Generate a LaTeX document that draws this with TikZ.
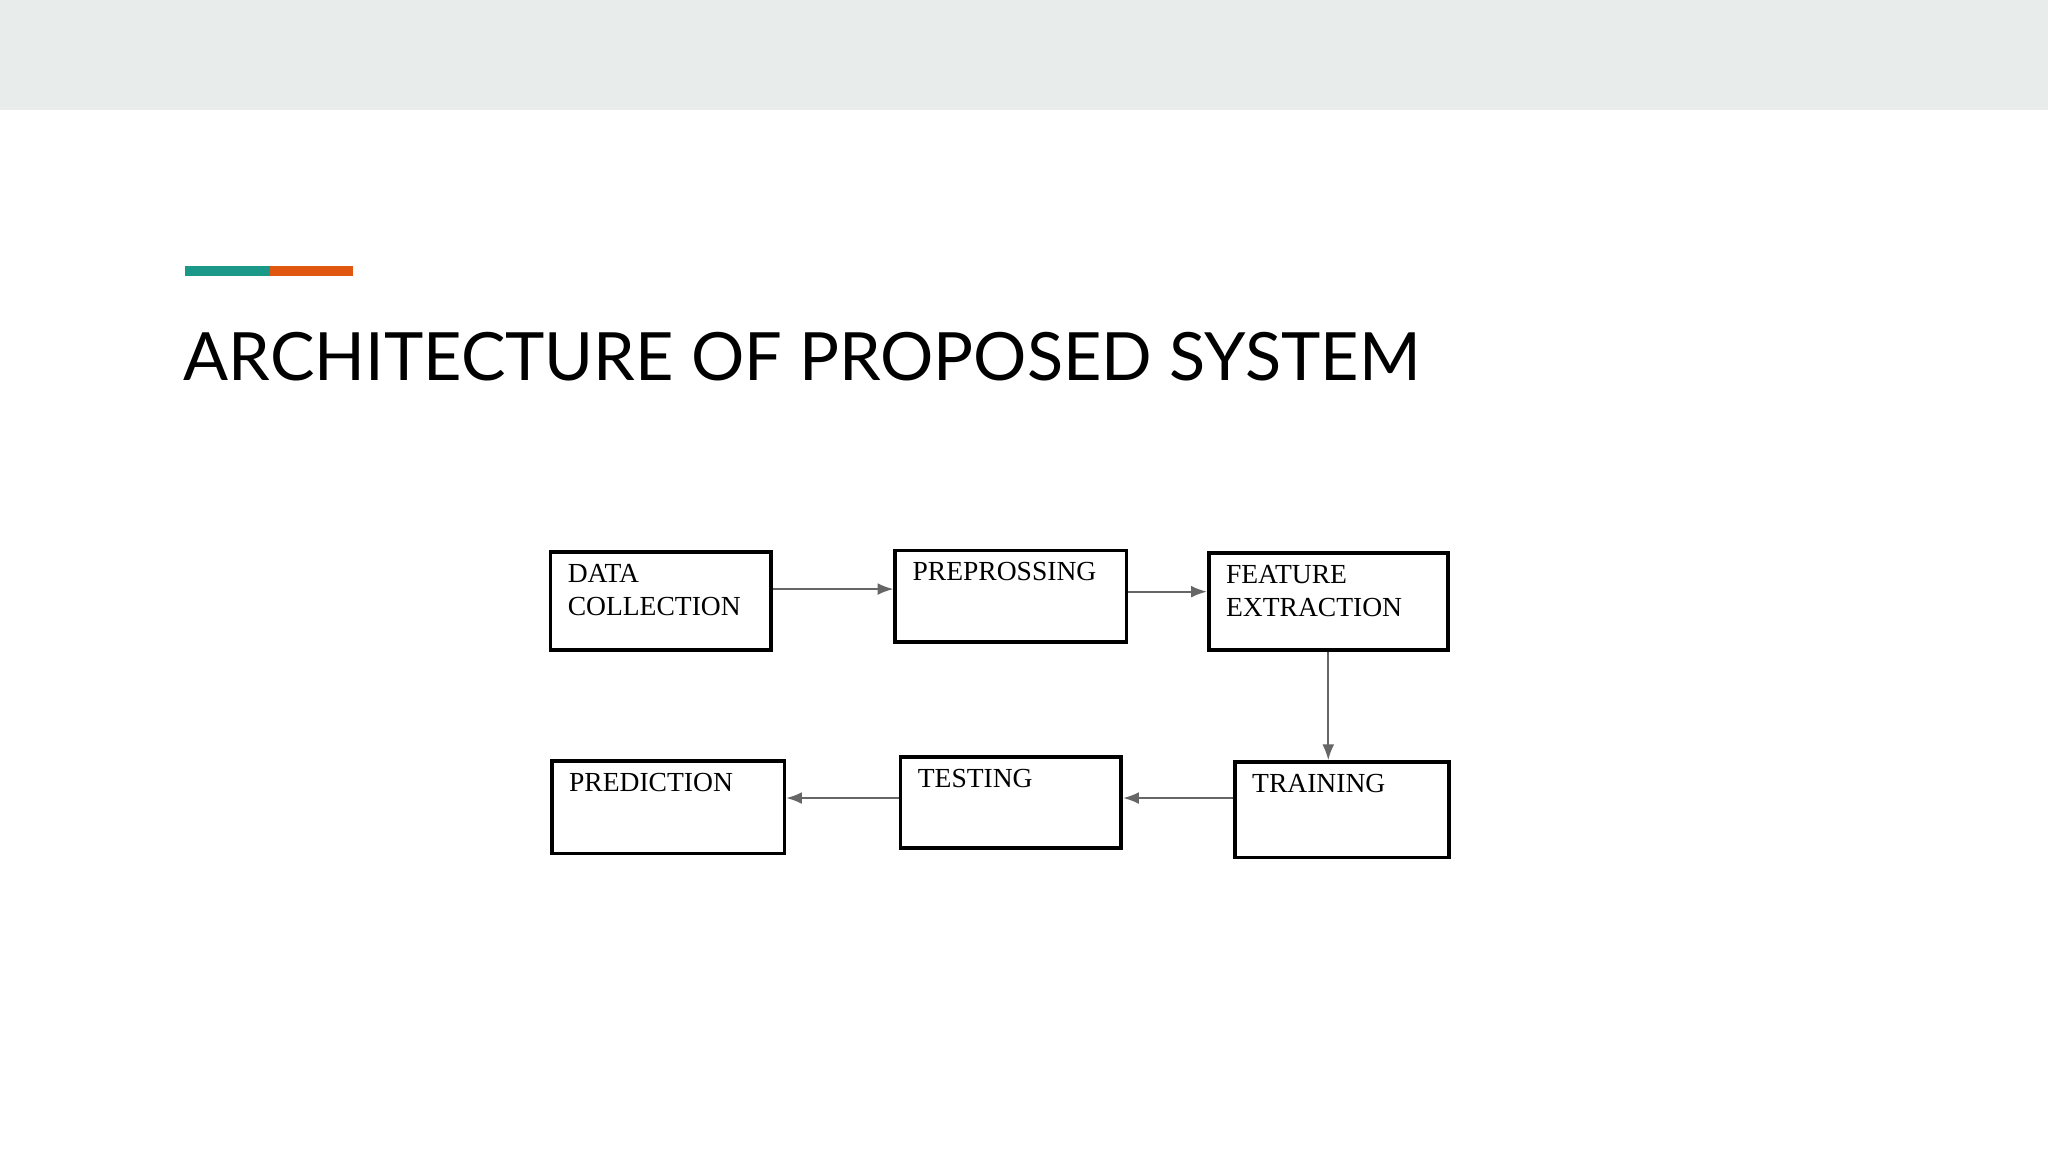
\documentclass[tikz,border=0pt]{standalone}
\usepackage{fontspec}
\setmainfont{Liberation Serif}
\newfontfamily\titlefont{Lato}
\usetikzlibrary{positioning,arrows.meta}
\definecolor{bandgray}{HTML}{E8EDEC}
\definecolor{accteal}{HTML}{1A9988}
\definecolor{accorange}{HTML}{E0580F}
\begin{document}
\begin{tikzpicture}[x=0.01cm,y=-0.01cm,
  stage/.style={draw, line width=0.8pt, anchor=north west, inner sep=0pt},
  stagetext/.style={anchor=north west, align=left, inner sep=0pt, font=\fontsize{6pt}{7.2pt}\selectfont, xshift=0.14cm, yshift=-0.10cm},
  arr/.style={draw=black!60, line width=0.4pt, -{Latex[length=1.2mm,width=0.9mm]}},
]
\useasboundingbox (0,0) rectangle (1568,882);
\fill[bandgray] (0,0) rectangle (1568,84);
\fill[accteal] (142,204) rectangle (207,211);
\fill[accorange] (207,204) rectangle (270,211);
\node[anchor=base west, inner sep=0pt, font=\titlefont\fontsize{14.5pt}{17pt}\selectfont] (title) at (140,291) {ARCHITECTURE OF PROPOSED SYSTEM};

\node (dc) [stage, minimum width=1.69cm, minimum height=0.75cm,
  label={[stagetext]north west:{DATA\\COLLECTION}}] at (420,421) {};
\node (pre) [stage, minimum width=1.77cm, minimum height=0.70cm,
  label={[stagetext]north west:{PREPROSSING}}] at (684,420) {};
\node (fe) [stage, minimum width=1.83cm, minimum height=0.74cm,
  label={[stagetext]north west:{FEATURE\\EXTRACTION}}] at (924,422) {};
\node (tr) [stage, minimum width=1.64cm, minimum height=0.73cm,
  label={[stagetext]north west:{TRAINING}}] at (944,582) {};
\node (te) [stage, minimum width=1.69cm, minimum height=0.70cm,
  label={[stagetext]north west:{TESTING}}] at (688,578) {};
\node (pr) [stage, minimum width=1.78cm, minimum height=0.71cm,
  label={[stagetext]north west:{PREDICTION}}] at (421,581) {};

\draw[arr] (dc.east |- {0,451}) -- (pre.west |- {0,451});
\draw[arr] (pre.east |- {0,453}) -- (fe.west |- {0,453});
\draw[arr] (fe.south) -- (tr.north -| fe.south);
\draw[arr] (tr.west |- {0,611}) -- (te.east |- {0,611});
\draw[arr] (te.west |- {0,611}) -- (pr.east |- {0,611});
\end{tikzpicture}
\end{document}
